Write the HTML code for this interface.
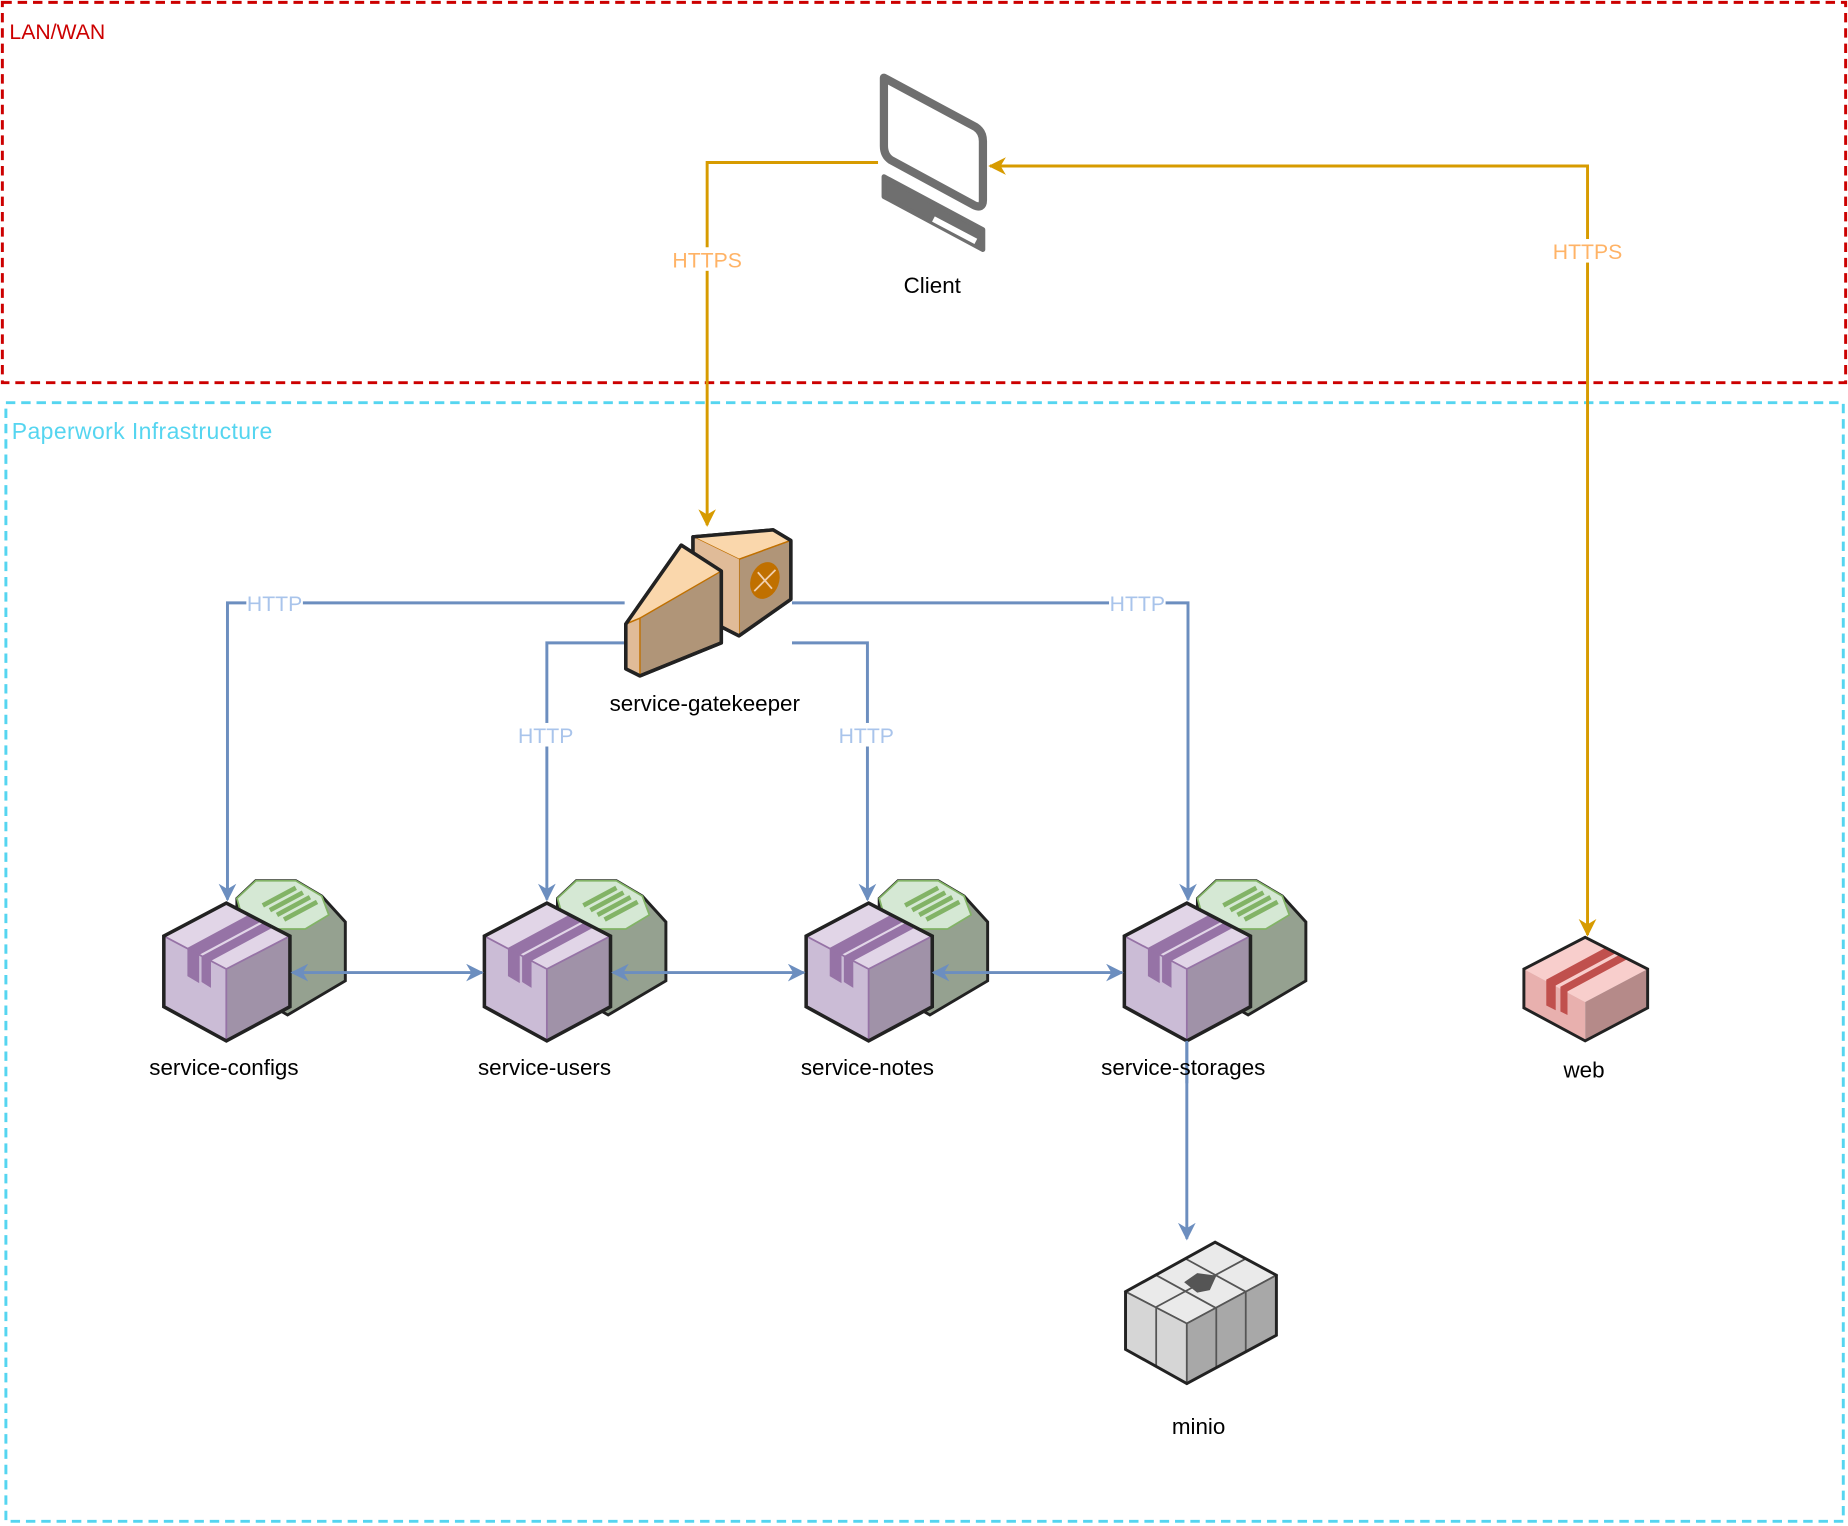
<!DOCTYPE html>
<html><head><meta charset="utf-8"><style>
html,body{margin:0;padding:0;background:#fff;}
svg{display:block;}
text{font-family:"Liberation Sans",Arial,sans-serif;}
</style></head><body>
<svg width="1848" height="1526" viewBox="0 0 1568 1296" preserveAspectRatio="none" xmlns="http://www.w3.org/2000/svg">
<defs>
<marker id="ao" viewBox="0 0 10 10" refX="9" refY="5" markerWidth="6" markerHeight="6" orient="auto-start-reverse"><path d="M0,0 L10,5 L0,10 L3,5 Z" fill="#d79b00"/></marker>
<marker id="ab" viewBox="0 0 10 10" refX="9" refY="5" markerWidth="6" markerHeight="6" orient="auto-start-reverse"><path d="M0,0 L10,5 L0,10 L3,5 Z" fill="#6c8ebf"/></marker>
<g id="svc">
  <path d="M62,-4 L78,-19 L112,-19 L134,-6 L154,16 L154,66 L105,95 L62,70 Z" fill="#95a190" stroke="#222" stroke-width="2.5"/>
  <path d="M62,-4 L78,-19 L112,-19 L134,-6 L140,10 L120,22 L84,22 L66,10 Z" fill="#d5e8d4" stroke="#82b366" stroke-width="1.5"/>
  <g stroke="#82b366" stroke-width="4">
    <path d="M84,2 L112,-13 M90,6 L118,-9 M96,10 L124,-5 M102,14 L130,-1"/>
  </g>
  <path d="M53,0 L107,28 L53,56 L0,28 Z" fill="#e1d5e7"/>
  <path d="M0,28 L53,56 L53,117 L0,88 Z" fill="#cbbcd6"/>
  <path d="M53,56 L107,28 L107,88 L53,117 Z" fill="#a092a8"/>
  <path d="M20,38 L72,10 L82,16 L30,44 L30,68 L20,62 Z M32,45 L84,17 L92,21 L40,49 L40,72 L32,67 Z" fill="#9673a6"/>
  <path d="M0,28 L53,56 L107,28 M53,56 L53,117" fill="none" stroke="#9673a6" stroke-width="1.5"/>
  <path d="M53,0 L107,28 L107,88 L53,117 L0,88 L0,28 Z" fill="none" stroke="#222" stroke-width="3"/>
</g>
</defs>
<rect x="2" y="2" width="1564" height="323" fill="none" stroke="#cc0000" stroke-width="2.5" stroke-dasharray="8,5"/>
<text x="8" y="33" font-size="18" fill="#cc0000">LAN/WAN</text>
<rect x="5" y="342" width="1559" height="950" fill="none" stroke="#55d5f0" stroke-width="2.5" stroke-dasharray="8,5"/>
<text x="10" y="373" font-size="19.5" fill="#55d5f0" textLength="221">Paperwork Infrastructure</text>

<!-- client -->
<g stroke="#6f6f6f" fill="none" stroke-width="7" stroke-linejoin="round">
<path d="M750,66 L828,108 Q834,112 834,120 L834,170 Q834,178 826,174 L756,136 Q750,132 750,124 Z"/>
<path d="M750,150 L834,195 L834,212 L750,167 Z" fill="#6f6f6f" stroke-width="4"/>
</g>
<path d="M792,186 L828,205" stroke="#fff" stroke-width="5"/>
<text x="791" y="249" font-size="19" text-anchor="middle" fill="#000">Client</text>

<!-- orange lines -->
<path d="M745,138 L600,138 L600,446" fill="none" stroke="#d79b00" stroke-width="2.5" marker-end="url(#ao)"/>
<rect x="568" y="210" width="64" height="20" fill="#fff"/>
<text x="600" y="227" font-size="18" fill="#ffb366" text-anchor="middle">HTTPS</text>
<path d="M840,141 L1347,141 L1347,794" fill="none" stroke="#d79b00" stroke-width="2.5" marker-start="url(#ao)" marker-end="url(#ao)"/>
<rect x="1315" y="203" width="64" height="20" fill="#fff"/>
<text x="1347" y="220" font-size="18" fill="#ffb366" text-anchor="middle">HTTPS</text>

<!-- blue lines -->
<g fill="none" stroke="#6c8ebf" stroke-width="2.5">
<path d="M530,512 L193,512 L193,764" marker-end="url(#ab)"/>
<path d="M530,546 L464,546 L464,764" marker-end="url(#ab)"/>
<path d="M672,546 L736,546 L736,764" marker-end="url(#ab)"/>
<path d="M672,512 L1008,512 L1008,764" marker-end="url(#ab)"/>
<path d="M1007,884 L1007,1052" marker-end="url(#ab)"/>
</g>
<g font-size="18" fill="#a9c4eb" text-anchor="middle">
<rect x="209" y="503" width="48" height="18" fill="#fff"/><text x="233" y="519">HTTP</text>
<rect x="941" y="503" width="48" height="18" fill="#fff"/><text x="965" y="519">HTTP</text>
<rect x="439" y="614" width="48" height="20" fill="#fff"/><text x="463" y="631">HTTP</text>
<rect x="711" y="614" width="48" height="20" fill="#fff"/><text x="735" y="631">HTTP</text>
</g>

<!-- gatekeeper -->
<g stroke-linejoin="round">
<path d="M588,456 L656,450 L671,459 L671,509 L627,540 L588,520 Z" fill="#e0bb98" stroke="#222" stroke-width="3"/>
<path d="M588,456 L656,450 L671,459 L627,475 Z" fill="#fad7ac" stroke="#c07000" stroke-width="1.2"/>
<path d="M627,475 L671,459 L671,509 L627,540 Z" fill="#b09578" stroke="#c07000" stroke-width="1.2"/>
<path d="M588,456 L627,475 L627,540 L588,520 Z" fill="#e0bb98"/>
<path d="M588,456 L656,450 L671,459 L671,509 L627,540 L588,520 Z" fill="none" stroke="#222" stroke-width="3"/>
<ellipse cx="649" cy="493" rx="12" ry="16" transform="rotate(20 649 493)" fill="#c07000"/>
<path d="M640,502 L658,484 M643,486 L655,500" stroke="#f0d0b0" stroke-width="1.5"/>
<path d="M531,530 L578,463 L612,485 L612,546 L543,574 L531,568 Z" fill="#b09578" stroke="#222" stroke-width="3"/>
<path d="M531,530 L578,463 L612,485 L543,525 Z" fill="#fad7ac" stroke="#c07000" stroke-width="1.2"/>
<path d="M531,530 L543,525 L543,574 L531,568 Z" fill="#e0bb98" stroke="#c07000" stroke-width="1.2"/>
<path d="M531,530 L578,463 L612,485 L612,546 L543,574 L531,568 Z" fill="none" stroke="#222" stroke-width="3"/>
</g>
<text x="598" y="604" font-size="19" text-anchor="middle" fill="#000">service-gatekeeper</text>

<!-- services -->
<use href="#svc" x="139" y="767"/>
<use href="#svc" x="411" y="767"/>
<use href="#svc" x="684" y="767"/>
<use href="#svc" x="954" y="767"/>
<g fill="none" stroke="#6c8ebf" stroke-width="2.5">
<path d="M248,826 L409,826" marker-start="url(#ab)" marker-end="url(#ab)"/>
<path d="M520,826 L682,826" marker-start="url(#ab)" marker-end="url(#ab)"/>
<path d="M792,826 L952,826" marker-start="url(#ab)" marker-end="url(#ab)"/>
<path d="M1007,884 L1007,920"/>
</g>
<g font-size="19" text-anchor="middle" fill="#000">
<text x="190" y="913">service-configs</text>
<text x="462" y="913">service-users</text>
<text x="736" y="913">service-notes</text>
<text x="1004" y="913">service-storages</text>
</g>

<!-- web -->
<g>
<path d="M1345,796 L1398,823 L1345,851 L1293,823 Z" fill="#f8cecc"/>
<path d="M1293,823 L1345,851 L1345,884 L1293,856 Z" fill="#e8b0ae"/>
<path d="M1345,851 L1398,823 L1398,856 L1345,884 Z" fill="#b58a89"/>
<path d="M1312,832 L1362,805 L1370,810 L1320,837 L1320,858 L1312,854 Z M1324,838 L1374,811 L1380,815 L1330,842 L1330,862 L1324,859 Z" fill="#c0504d"/>
<path d="M1345,796 L1398,823 L1398,856 L1345,884 L1293,856 L1293,823 Z" fill="none" stroke="#222" stroke-width="2.5"/>
</g>
<text x="1344" y="915" font-size="19" text-anchor="middle" fill="#000">web</text>

<!-- minio -->
<g stroke="#555" stroke-width="1.5">
<path d="M955,1097 L1031,1055 L1083,1083 L1007,1124 Z" fill="#eaeaea"/>
<path d="M955,1097 L1007,1124 L1007,1175 L955,1146 Z" fill="#d6d6d6"/>
<path d="M1007,1124 L1083,1083 L1083,1134 L1007,1175 Z" fill="#a8a8a8"/>
<path d="M981,1110 L981,1161 M1032,1111 L1032,1161 M1057,1097 L1057,1148 M981,1083 L1032,1111 M1006,1069 L1057,1097 M981,1110 L1057,1069"/>
<path d="M955,1097 L1031,1055 L1083,1083 L1083,1134 L1007,1175 L955,1146 Z" fill="none" stroke="#222" stroke-width="2.5"/>
<path d="M1006,1089 L1016,1082 L1031,1084 L1026,1095 L1016,1097 Z" fill="#555"/>
</g>
<text x="1017" y="1218" font-size="19" text-anchor="middle" fill="#000">minio</text>
</svg>
</body></html>
